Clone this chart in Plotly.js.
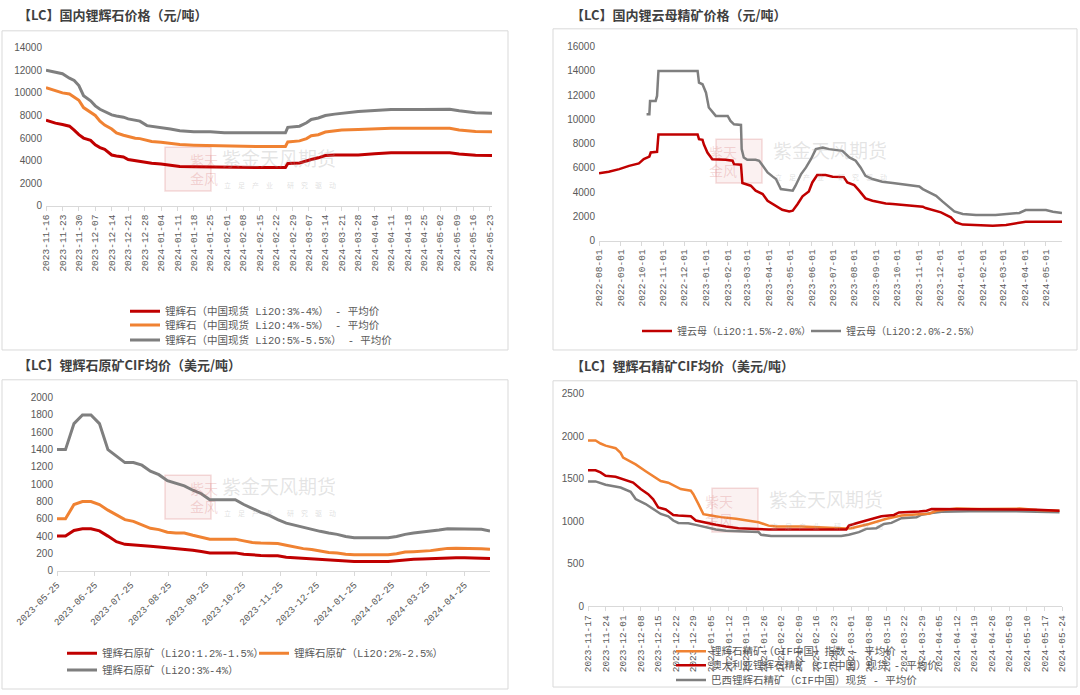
<!DOCTYPE html>
<html><head><meta charset="utf-8">
<script src="https://cdn.plot.ly/plotly-3.0.1.min.js"></script>
<style>html,body{margin:0;padding:0;background:#fff;}#chart{width:1080px;height:695px;}</style>
</head><body><div id="chart"></div>
<script>
// ---------- Panel 1: 国内锂辉石价格 (元/吨) ----------
const spodDates = ['2023-11-16','2023-11-20','2023-11-23','2023-11-26','2023-11-28','2023-11-30','2023-12-02','2023-12-05','2023-12-07','2023-12-09','2023-12-11','2023-12-14','2023-12-16','2023-12-19','2023-12-21','2023-12-24','2023-12-26','2023-12-29','2023-12-31','2024-01-04','2024-01-08','2024-01-12','2024-01-18','2024-01-25','2024-01-31','2024-02-14','2024-02-26','2024-02-27','2024-03-03','2024-03-06','2024-03-08','2024-03-11','2024-03-14','2024-03-18','2024-03-21','2024-03-28','2024-04-04','2024-04-11','2024-04-24','2024-05-06','2024-05-10','2024-05-17','2024-05-24'];
const spod3to4 = [7580,7320,7200,7050,6700,6300,6000,5800,5400,5150,5000,4500,4420,4330,4100,3980,3950,3800,3760,3700,3600,3480,3450,3420,3400,3390,3390,3750,3800,4000,4100,4250,4450,4500,4510,4510,4620,4690,4690,4690,4580,4470,4450];
const spod4to5 = [10470,10180,10000,9900,9600,9350,8700,8300,8000,7500,7150,6800,6450,6250,6120,5980,5950,5780,5700,5620,5500,5420,5370,5330,5270,5250,5250,5660,5750,5950,6200,6300,6530,6650,6720,6760,6820,6870,6870,6860,6720,6580,6550];
const spod5to55 = [12000,11850,11700,11300,11100,10650,9750,9300,8850,8550,8350,8050,7950,7850,7700,7550,7500,7100,7050,6950,6800,6650,6560,6550,6480,6460,6460,6950,7050,7350,7650,7780,8000,8120,8200,8350,8450,8530,8530,8550,8420,8250,8200];
const spodNames = ['锂辉石（中国现货 Li2O:3%-4%） - 平均价','锂辉石（中国现货 Li2O:4%-5%） - 平均价','锂辉石（中国现货 Li2O:5%-5.5%） - 平均价'];

// ---------- Panel 2: 国内锂云母精矿价格 (元/吨) ----------
const lepLowDates = ['2022-08-01','2022-08-15','2022-08-30','2022-09-13','2022-09-27','2022-10-04','2022-10-12','2022-10-14','2022-10-23','2022-10-25','2022-12-20','2022-12-22','2022-12-27','2022-12-29','2023-01-03','2023-01-10','2023-01-29','2023-02-08','2023-02-10','2023-02-20','2023-02-22','2023-03-06','2023-03-13','2023-03-23','2023-03-30','2023-04-11','2023-04-20','2023-04-30','2023-05-05','2023-05-12','2023-05-19','2023-05-28','2023-06-02','2023-06-09','2023-06-21','2023-07-01','2023-07-17','2023-07-22','2023-08-01','2023-08-08','2023-08-17','2023-08-27','2023-09-15','2023-09-25','2023-10-23','2023-11-07','2023-11-11','2023-11-21','2023-12-03','2023-12-17','2023-12-24','2024-01-03','2024-02-15','2024-03-05','2024-03-24','2024-04-02','2024-05-01','2024-05-24'];
const lepLowVals = [5550,5680,5900,6170,6370,6720,6940,7270,7330,8750,8750,8370,8320,7930,7270,6720,6670,6590,6310,6260,4750,4530,4120,3840,3290,2880,2550,2410,2470,3020,3650,4060,4800,5410,5410,5270,5240,4800,4580,4120,3490,3290,3070,3020,2880,2800,2690,2550,2330,1920,1510,1320,1230,1290,1450,1560,1560,1560];
const lepHighDates = ['2022-10-08','2022-10-12','2022-10-13','2022-10-21','2022-10-23','2022-10-25','2022-12-20','2022-12-22','2022-12-27','2023-01-01','2023-01-05','2023-01-10','2023-01-15','2023-02-01','2023-02-05','2023-02-10','2023-02-20','2023-02-21','2023-02-24','2023-03-01','2023-03-13','2023-03-18','2023-03-25','2023-03-30','2023-04-06','2023-04-11','2023-04-18','2023-04-30','2023-05-05','2023-05-09','2023-05-17','2023-05-24','2023-05-31','2023-06-07','2023-06-17','2023-06-26','2023-07-15','2023-07-25','2023-08-03','2023-08-10','2023-08-17','2023-08-27','2023-09-10','2023-09-25','2023-10-14','2023-11-02','2023-11-07','2023-11-16','2023-11-26','2023-12-05','2023-12-15','2023-12-22','2024-01-03','2024-01-22','2024-02-19','2024-03-10','2024-03-24','2024-04-02','2024-05-01','2024-05-11','2024-05-24'];
const lepHighVals = [10430,10430,11530,11530,11940,14000,14000,13040,12900,12210,10980,10620,10290,10290,9880,9600,9550,7550,6860,6670,6670,6590,6040,5630,5300,5080,4250,4120,4120,4530,5490,6040,6720,7550,7680,7550,7410,6860,6590,6040,5350,5080,4860,4750,4580,4470,4250,3980,3700,3240,2740,2410,2200,2110,2110,2200,2280,2520,2520,2390,2280];
const lepNames = ['锂云母（Li2O:1.5%-2.0%）','锂云母（Li2O:2.0%-2.5%）'];

// ---------- Panel 3: 锂辉石原矿CIF均价 (美元/吨) ----------
const oreDates = ['2023-05-25','2023-06-01','2023-06-08','2023-06-15','2023-06-22','2023-06-29','2023-07-06','2023-07-13','2023-07-20','2023-07-27','2023-08-03','2023-08-10','2023-08-17','2023-08-24','2023-08-31','2023-09-07','2023-09-14','2023-09-21','2023-09-28','2023-10-05','2023-10-12','2023-10-19','2023-10-26','2023-11-02','2023-11-09','2023-11-16','2023-11-23','2023-11-30','2023-12-07','2023-12-14','2023-12-21','2023-12-28','2024-01-04','2024-01-11','2024-01-18','2024-01-25','2024-02-01','2024-02-08','2024-02-15','2024-02-22','2024-02-29','2024-03-07','2024-03-14','2024-03-21','2024-03-28','2024-04-04','2024-04-11','2024-04-18','2024-04-25','2024-05-02','2024-05-09','2024-05-16'];
const ore12to15 = [400,400,465,485,485,460,400,335,305,295, 290,282,275,267,256,252,237,221,206,206, 206,206,191,180,176,172,172,156,149,141, 137,134,122,118,111,107,107,107,107,107, 116,128,132,136,140,148,150,150,150,150, 146,142];
const ore2to25 = [600,600,765,800,800,765,700,640,590,570, 530,490,475,445,435,435,410,390,365,365, 365,365,345,325,320,315,315,295,275,255, 245,225,210,205,190,185,185,185,185,185, 195,215,220,225,232,245,258,260,260,260, 255,248];
const ore3to4 = [1400,1400,1700,1800,1800,1700,1400,1320,1250,1250, 1220,1150,1110,1040,1010,980,930,890,820,820, 820,820,765,720,675,640,590,550,525,505, 475,455,435,420,395,380,380,380,380,380, 395,420,435,445,455,470,485,485,485,485, 478,460];
const oreNames = ['锂辉石原矿（Li2O:1.2%-1.5%）','锂辉石原矿（Li2O:2%-2.5%）','锂辉石原矿（Li2O:3%-4%）'];

// ---------- Panel 4: 锂辉石精矿CIF均价 (美元/吨) ----------
const idxDates = ['2023-11-17','2023-11-20','2023-11-22','2023-11-24','2023-11-28','2023-11-30','2023-12-01','2023-12-03','2023-12-06','2023-12-10','2023-12-14','2023-12-16','2023-12-19','2023-12-22','2023-12-24','2023-12-28','2023-12-29','2023-12-31','2024-01-02','2024-01-05','2024-01-09','2024-01-15','2024-01-19','2024-01-24','2024-01-28','2024-01-31','2024-02-10','2024-02-21','2024-02-28','2024-03-01','2024-03-08','2024-03-15','2024-03-21','2024-03-28','2024-04-01','2024-04-04','2024-04-12','2024-04-21','2024-05-07','2024-05-14','2024-05-23'];
const idxVals = [1950,1950,1915,1890,1860,1805,1750,1720,1670,1590,1515,1475,1455,1405,1380,1360,1320,1205,1085,1070,1050,1030,1010,990,950,940,940,920,915,920,970,1030,1070,1085,1090,1125,1150,1145,1150,1135,1125];
const ausDates = ['2023-11-17','2023-11-20','2023-11-22','2023-11-24','2023-11-28','2023-11-30','2023-12-03','2023-12-05','2023-12-08','2023-12-11','2023-12-13','2023-12-15','2023-12-18','2023-12-21','2023-12-23','2023-12-28','2023-12-30','2024-01-03','2024-01-07','2024-01-11','2024-01-16','2024-01-21','2024-01-28','2024-02-28','2024-02-29','2024-03-03','2024-03-07','2024-03-11','2024-03-13','2024-03-18','2024-03-20','2024-03-28','2024-03-31','2024-04-02','2024-04-15','2024-04-30','2024-05-14','2024-05-23'];
const ausVals = [1600,1600,1575,1535,1525,1505,1475,1455,1380,1320,1260,1165,1140,1075,1068,1060,1010,982,960,940,920,912,905,905,950,978,1010,1037,1060,1076,1105,1115,1126,1145,1145,1140,1138,1126];
const braDates = ['2023-11-17','2023-11-20','2023-11-24','2023-11-28','2023-11-30','2023-12-04','2023-12-06','2023-12-10','2023-12-14','2023-12-16','2023-12-19','2023-12-21','2023-12-23','2023-12-27','2023-12-30','2024-01-03','2024-01-07','2024-01-11','2024-01-17','2024-01-24','2024-01-25','2024-01-29','2024-02-26','2024-02-29','2024-03-04','2024-03-07','2024-03-11','2024-03-14','2024-03-17','2024-03-21','2024-03-27','2024-03-29','2024-04-02','2024-04-06','2024-04-17','2024-04-30','2024-05-14','2024-05-23'];
const braVals = [1470,1470,1430,1405,1398,1347,1262,1204,1126,1087,1060,1010,982,978,959,932,905,889,881,874,843,827,827,843,874,912,920,970,982,1037,1048,1079,1099,1114,1118,1122,1114,1107];
const concNames = ['锂辉石精矿（CIF中国）指数 - 平均价','澳大利亚锂辉石精矿（CIF中国）现货 - 平均价','巴西锂辉石精矿（CIF中国）现货 - 平均价'];

const panelTitles = ['【LC】国内锂辉石价格（元/吨）','【LC】国内锂云母精矿价格（元/吨）','【LC】锂辉石原矿CIF均价（美元/吨）','【LC】锂辉石精矿CIF均价（美元/吨）'];

// ---------- layout helpers ----------
const W = 1080, H = 695;
const fx = p => p / W, fy = p => 1 - p / H;
const RED = '#C00000', ORANGE = '#F08232', GRAY = '#7F7F7F';
const TXT = '#595959';

function line(x, y, name, color, w, xa, ya, lg) {
  return {type:'scatter', mode:'lines', x, y, name, xaxis:xa, yaxis:ya, legend:lg,
    line:{color, width:w}, hoverinfo:'skip'};
}
const traces = [
  line(spodDates, spod3to4, spodNames[0], RED, 3, 'x', 'y', 'legend'),
  line(spodDates, spod4to5, spodNames[1], ORANGE, 3, 'x', 'y', 'legend2'),
  line(spodDates, spod5to55, spodNames[2], GRAY, 3, 'x', 'y', 'legend3'),
  line(lepLowDates, lepLowVals, lepNames[0], RED, 2.5, 'x2', 'y2', 'legend4'),
  line(lepHighDates, lepHighVals, lepNames[1], GRAY, 2.5, 'x2', 'y2', 'legend5'),
  line(oreDates, ore12to15, oreNames[0], RED, 3, 'x3', 'y3', 'legend6'),
  line(oreDates, ore2to25, oreNames[1], ORANGE, 3, 'x3', 'y3', 'legend7'),
  line(oreDates, ore3to4, oreNames[2], GRAY, 3, 'x3', 'y3', 'legend8'),
  line(braDates, braVals, concNames[2], GRAY, 2.5, 'x4', 'y4', 'legend11'),
  line(idxDates, idxVals, concNames[0], ORANGE, 2.5, 'x4', 'y4', 'legend9'),
  line(ausDates, ausVals, concNames[1], RED, 2.5, 'x4', 'y4', 'legend10')
];

function xAx(l, r, range, tick0, dtick, angle, anchor) {
  return {domain:[fx(l), fx(r)], range, type:'date', anchor, tick0, dtick,
    tickformat:'%Y-%m-%d', tickangle:angle, showline:true, linecolor:'#D9D9D9', linewidth:1,
    ticks:'outside', ticklen:4, tickcolor:'#D9D9D9', showgrid:false, zeroline:false,
    tickfont:{family:'Liberation Mono, monospace', size:9.5, color:TXT}, fixedrange:true};
}
function yAx(top, bot, max, dtick, anchor) {
  return {domain:[fy(bot), fy(top)], range:[0, max], anchor, tick0:0, dtick, tickformat:'d',
    showline:false, showgrid:false, zeroline:false, ticks:'', ticklabelstandoff:3,
    tickfont:{family:'Liberation Sans, Arial, sans-serif', size:10, color:TXT}, fixedrange:true};
}
function lg(xpx, ypx, size) {
  return {x:fx(xpx), y:fy(ypx), xanchor:'left', yanchor:'middle', orientation:'v',
    bgcolor:'rgba(0,0,0,0)', borderwidth:0,
    font:{family:'Liberation Mono, Noto Sans CJK SC, monospace', size, color:TXT}};
}
function box(x0, y0, x1, y1) {
  return {type:'rect', xref:'paper', yref:'paper', x0:fx(x0), x1:fx(x1), y0:fy(y1), y1:fy(y0),
    line:{color:'#D9D9D9', width:1}, fillcolor:'rgba(0,0,0,0)', layer:'below'};
}
function title(t, xpx, ypx) {
  return {text:'<b>' + t + '</b>', xref:'paper', yref:'paper', x:fx(xpx), y:fy(ypx),
    xanchor:'left', yanchor:'middle', showarrow:false,
    font:{family:'Noto Sans CJK SC, sans-serif', size:13, color:'#404040'}};
}
// watermark pieces (logo box + brand text + slogan)
function wmLogo(x0, y0) {
  return {type:'rect', xref:'paper', yref:'paper', x0:fx(x0), x1:fx(x0 + 46), y0:fy(y0 + 44), y1:fy(y0),
    line:{color:'rgba(200,60,60,0.18)', width:1.5}, fillcolor:'rgba(220,120,120,0.10)', layer:'below'};
}
function wmAnn(x0, y0) {
  return [
    {text:'紫天<br>金风', xref:'paper', yref:'paper', x:fx(x0 + 23), y:fy(y0 + 22), yanchor:'middle', showarrow:false,
      font:{family:'Noto Sans CJK SC', size:14, color:'rgba(200,70,70,0.20)'}},
    {text:'紫金天风期货', xref:'paper', yref:'paper', x:fx(x0 + 55), y:fy(y0 + 10), xanchor:'left', yanchor:'middle', showarrow:false,
      font:{family:'Noto Sans CJK SC', size:19, color:'rgba(160,160,160,0.28)'}},
    {text:'立　足　产　业　　研　究　驱　动', xref:'paper', yref:'paper', x:fx(x0 + 57), y:fy(y0 + 38), xanchor:'left', yanchor:'middle', showarrow:false,
      font:{family:'Noto Sans CJK SC', size:7, color:'rgba(160,160,160,0.35)'}}
  ];
}

const layout = {
  width:W, height:H, autosize:false, margin:{l:0, r:0, t:0, b:0},
  paper_bgcolor:'#ffffff', plot_bgcolor:'rgba(0,0,0,0)', showlegend:true,
  xaxis:  xAx(46, 492, ['2023-11-16','2024-05-24'], '2023-11-16', 7*86400000, -90, 'y'),
  yaxis:  yAx(48, 207, 14000, 2000, 'x'),
  xaxis2: xAx(599, 1062, ['2022-08-01','2024-05-24'], '2022-08-01', 'M1', -90, 'y2'),
  yaxis2: yAx(47, 242, 16000, 2000, 'x2'),
  xaxis3: xAx(57, 490, ['2023-05-25','2024-05-16'], '2023-05-25', 'M1', -45, 'y3'),
  yaxis3: yAx(400, 574, 2000, 200, 'x3'),
  xaxis4: xAx(588, 1062, ['2023-11-17','2024-05-24'], '2023-11-17', 7*86400000, -90, 'y4'),
  yaxis4: yAx(396, 610, 2500, 500, 'x4'),
  legend:   lg(125, 313, 10.5),
  legend2:  lg(125, 327, 10.5),
  legend3:  lg(125, 342, 10.5),
  legend4:  lg(637, 333, 10),
  legend5:  lg(806, 333, 10),
  legend6:  lg(62, 657, 10.5),
  legend7:  lg(254, 657, 10.5),
  legend8:  lg(62, 674, 10.5),
  legend9:  lg(671, 655, 10.5),
  legend10: lg(671, 669, 10.5),
  legend11: lg(671, 684, 10.5),
  shapes: [box(2, 31, 508, 352), box(553, 29, 1077, 352), box(2, 382, 508, 693), box(553, 383, 1077, 691),
    wmLogo(165, 148), wmLogo(716, 140), wmLogo(165, 478), wmLogo(712, 491)],
  annotations: [title(panelTitles[0], 16, 15), title(panelTitles[1], 569, 15),
    title(panelTitles[2], 16, 367), title(panelTitles[3], 569, 368)]
    .concat(wmAnn(165, 148), wmAnn(716, 140), wmAnn(165, 478), wmAnn(712, 491))
};

Plotly.newPlot('chart', traces, layout, {displayModeBar:false, staticPlot:true});
</script></body></html>
